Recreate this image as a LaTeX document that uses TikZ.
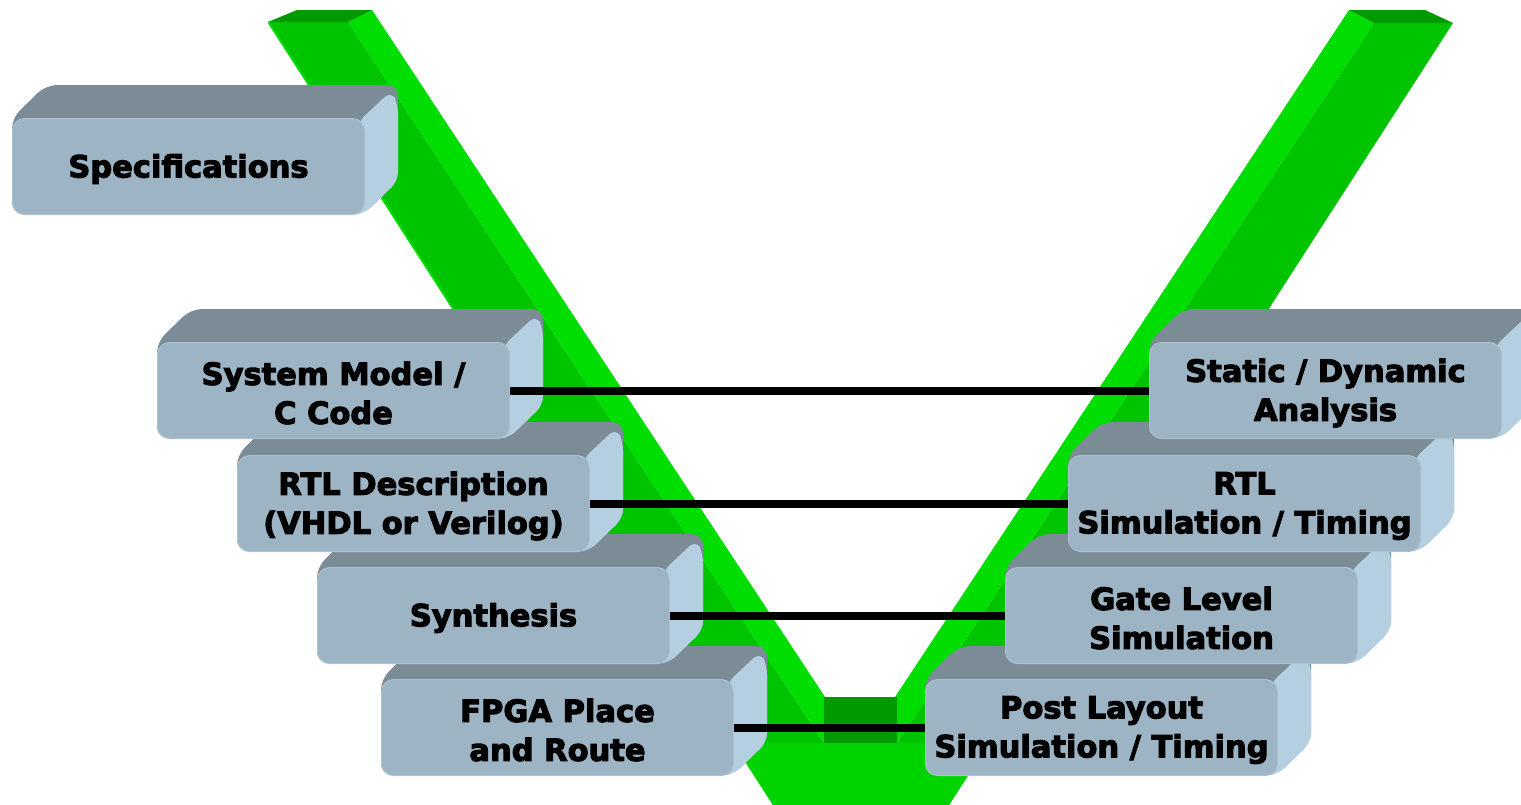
\documentclass[tikz,border=0pt]{standalone}
\usepackage{fontspec}
\setmainfont{DejaVu Sans}[BoldFeatures={FakeBold=3.5}]
\definecolor{gmed}{RGB}{0,196,0}
\definecolor{gbright}{RGB}{0,221,0}
\definecolor{gbot}{RGB}{0,212,0}
\definecolor{gdark}{RGB}{0,153,0}
\definecolor{boxfront}{RGB}{157,180,196}
\definecolor{boxedge}{RGB}{172,193,207}
\definecolor{boxtop}{RGB}{123,140,151}
\definecolor{boxside}{RGB}{180,207,224}
\newcommand\tdbox[4]{%
  \fill[boxtop, rounded corners=11pt] (#2,#3+96) -- (#2,#3) -- (#2+34,#3-33) -- (#2+386,#3-33) -- (#2+386,#3+63) -- (#2+352,#3+96) -- cycle;
  \fill[boxside, rounded corners=9pt] (#2+346,#3+4) -- (#2+379,#3-27) -- (#2+386,#3-14) -- (#2+386,#3+63) -- (#2+352,#3+96) -- (#2+340,#3+96) -- cycle;
  \node[frontface, anchor=north west] (#1) at (#2,#3) {};
  \node[boxtext] at ([yshift=-2.5pt]#1.center) {#4};
}
\begin{document}
\begin{tikzpicture}[x=1pt,y=-1pt,
  frontface/.style={draw=boxedge, line width=1pt, fill=boxfront, rounded corners=12pt,
    minimum width=352pt, minimum height=96pt, inner sep=0pt},
  boxtext/.style={inner sep=0pt, align=center, text=black,
    font=\bfseries\fontsize{30.5}{39}\selectfont},
  conn/.style={line width=8pt, black}]
\clip (0,0) rectangle (1521,804);
\useasboundingbox (0,0) rectangle (1521,804);
% V shape
\fill[gbot] (733,743) -- (989,743) -- (946,810) -- (776,810) -- cycle;
\fill[gmed] (268,22) -- (348,22) -- (824,743) -- (733,743) -- cycle;
\fill[gbright] (348,22) -- (372,10) -- (825,697) -- (824,743) -- cycle;
\fill[gdark] (268,22) -- (297,10) -- (372,10) -- (348,22) -- cycle;
\draw[gbright, line width=2pt] (269,23) -- (733,743);
\fill[gmed] (1374,23) -- (1453,23) -- (989,743) -- (897,743) -- cycle;
\fill[gbright] (1349,10) -- (1374,23) -- (897,743) -- (895,697) -- cycle;
\fill[gdark] (1349,10) -- (1425,10) -- (1453,23) -- (1374,23) -- cycle;
\fill[gdark] (824,697) rectangle (897,743);
% boxes, lower ones first
\tdbox{fpga}{381}{679}{FPGA Place\\and Route}
\tdbox{synth}{317}{567}{Synthesis}
\tdbox{rtl}{237}{455}{RTL Description\\(VHDL or Verilog)}
\tdbox{sysm}{157}{342}{System Model /\\C Code}
\tdbox{spec}{12}{118}{Specifications}
\tdbox{post}{925}{679}{Post Layout\\Simulation / Timing}
\tdbox{gate}{1005}{567}{Gate Level\\Simulation}
\tdbox{rtlsim}{1068}{455}{RTL\\Simulation / Timing}
\tdbox{stat}{1149}{342}{Static / Dynamic\\Analysis}
% connectors
\draw[conn] (sysm.east) -- (stat.west);
\draw[conn] (rtl.east) -- (rtlsim.west);
\draw[conn] (synth.east) -- (gate.west);
\draw[conn] (fpga.east) -- (post.west);
\end{tikzpicture}
\end{document}
